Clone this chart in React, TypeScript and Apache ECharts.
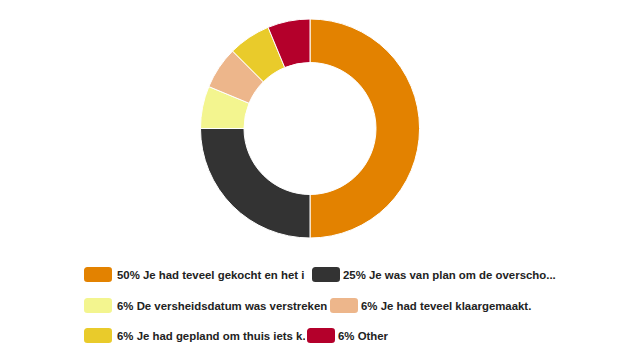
import React, { useEffect, useRef } from "react";
import * as echarts from "echarts";

const categories = [
  "50% Je had teveel gekocht en het is over",
  "25% Je was van plan om de overscho...",
  "6% De versheidsdatum was verstreken",
  "6% Je had teveel klaargemaakt.",
  "6% Je had gepland om thuis iets k...",
  "6% Other",
];
const values = [8, 4, 1, 1, 1, 1];
const colors = ["#E38200", "#333333", "#F3F58F", "#EDB68B", "#E9CB2B", "#B4002B"];

// legend layout: [category index, left, top, text clip width]
const legendSlots = [
  { idx: 0, left: 82, top: 265, width: 190, col: 0 },
  { idx: 2, left: 82, top: 296, width: 216, col: 0 },
  { idx: 4, left: 82, top: 326, width: 191, col: 0 },
  { idx: 1, left: 310, top: 265, width: 300, col: 1 },
  { idx: 3, left: 328, top: 296, width: 300, col: 1 },
  { idx: 5, left: 305, top: 326, width: 300, col: 1 },
];

export default function App() {
  const ref = useRef<HTMLDivElement>(null);
  useEffect(() => {
    if (!ref.current) return;
    const chart = echarts.init(ref.current, undefined, { renderer: "svg" });
    chart.setOption({
      animation: false,
      color: colors,
      legend: legendSlots.map((s) => ({
        left: s.left,
        top: s.top,
        z: s.col === 0 ? 2 : 4,
        padding: 0,
        orient: "horizontal",
        itemWidth: 30,
        itemHeight: 17,
        itemGap: 0,
        icon: "roundRect",
        selectedMode: false,
        data: [categories[s.idx]],
        textStyle: {
          fontFamily: "Liberation Sans, Arial, sans-serif",
          fontSize: 11.4,
          fontWeight: "bold",
          color: "#222222",
          width: s.width,
          overflow: "truncate",
          ellipsis: "",
          padding: [0, 0, 0, s.col === 0 ? -1 : -3],
        },
      })),
      series: [
        {
          type: "pie",
          center: [310, 128.5],
          radius: [66, 109.5],
          startAngle: 90,
          clockwise: true,
          label: { show: false },
          labelLine: { show: false },
          emphasis: { disabled: true },
          itemStyle: { borderColor: "#ffffff", borderWidth: 1 },
          data: categories.map((name, i) => ({ name, value: values[i] })),
        },
      ],
    });
    return () => chart.dispose();
  }, []);
  return (
    <div
      ref={ref}
      style={{ position: "fixed", left: 0, top: 0, width: 620, height: 364, background: "#fff" }}
    />
  );
}
